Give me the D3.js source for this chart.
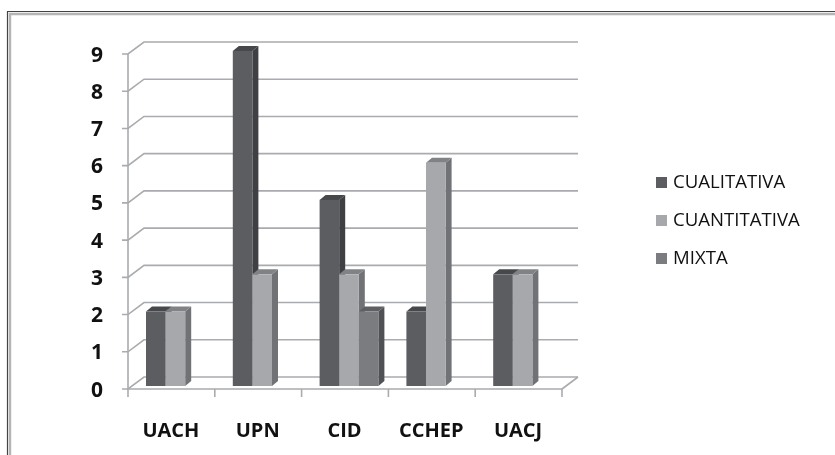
<!DOCTYPE html>
<html>
<head>
<meta charset="utf-8">
<script src="https://cdn.jsdelivr.net/npm/d3@7"></script>
<style>
  html, body { margin: 0; padding: 0; background: #fff; }
  svg { display: block; filter: blur(0.35px); }
  text { font-family: "Open Sans", sans-serif; fill: #111; }
</style>
</head>
<body>
<svg width="835" height="455"></svg>
<script>
const categories = ['UACH', 'UPN', 'CID', 'CCHEP', 'UACJ'];
const seriesNames = ['CUALITATIVA', 'CUANTITATIVA', 'MIXTA'];
const cualitativa = [2, 9, 5, 2, 3];
const cuantitativa = [2, 3, 3, 6, 3];
const mixta = [0, 0, 2, 0, 0];
const seriesValues = [cualitativa, cuantitativa, mixta];
const yTicks = [0, 1, 2, 3, 4, 5, 6, 7, 8, 9];

const front = ['#5c5d61', '#a6a8ac', '#7b7c80'];
const side = ['#3f4043', '#707276', '#505155'];
const top_ = ['#47484b', '#808285', '#5e5f63'];
const grid = '#a9abae';

const svg = d3.select('svg');

// window frame, only top and left show
svg.append('path').attr('d', 'M7.5,455V11.5H835').attr('fill', 'none').attr('stroke', '#444').attr('stroke-width', 1.2);
svg.append('path').attr('d', 'M10,455V14H835').attr('fill', 'none').attr('stroke', '#b4b5b6').attr('stroke-width', 2.4);

const x = d3.scaleBand().domain(categories).range([128, 562]);
const y = d3.scaleLinear().domain([0, 9]).range([389, 54]);
const depthX = 16, depthY = 12;   // wall offset
const barDX = 6, barDY = 5;       // bar depth
const barW = 19.6, barOffset = 18, barLift = 3;

const walls = svg.append('g').attr('fill', 'none').attr('stroke', grid).attr('stroke-width', 1.6);

// gridlines on back wall and side wall
walls.selectAll('path.grid')
  .data(yTicks)
  .enter().append('path')
  .attr('class', 'grid')
  .attr('d', d => `M${x.range()[0] - 6},${y(d)}H${x.range()[0]}L${x.range()[0] + depthX},${y(d) - depthY}H${x.range()[1] + depthX}`);

// floor right edge
walls.append('path')
  .attr('d', `M${x.range()[1]},${y(0)}L${x.range()[1] + depthX},${y(0) - depthY}`);

// front axes
walls.append('path').attr('d', `M${x.range()[0]},${y(9)}V${y(0)}H${x.range()[1]}`);
walls.selectAll('path.tick')
  .data(categories.map(c => x(c)).concat(x.range()[1]))
  .enter().append('path')
  .attr('class', 'tick')
  .attr('d', d => `M${d},${y(0)}V${y(0) + 8}`);

// bars, left to right
const bars = svg.append('g');
categories.forEach((c, i) => {
  seriesValues.forEach((vals, s) => {
    const v = vals[i];
    if (!v) return;
    const x0 = x(c) + barOffset + s * barW;
    const x1 = x0 + barW;
    const yb = y(0) - barLift;
    const yt = y(v) - barLift;
    const g = bars.append('g');
    g.append('path').attr('fill', side[s])
      .attr('d', `M${x1},${yb}L${x1 + barDX},${yb - barDY}V${yt - barDY}L${x1},${yt}Z`);
    g.append('path').attr('fill', top_[s])
      .attr('d', `M${x0},${yt}L${x0 + barDX},${yt - barDY}H${x1 + barDX}L${x1},${yt}Z`);
    g.append('rect').attr('fill', front[s])
      .attr('x', x0).attr('y', yt).attr('width', barW).attr('height', yb - yt);
  });
});

// value labels
svg.append('g').selectAll('text')
  .data(yTicks)
  .enter().append('text')
  .attr('x', 97)
  .attr('y', d => y(d) + 7.5)
  .attr('text-anchor', 'middle')
  .attr('font-size', 21)
  .attr('font-weight', 700)
  .text(d => d);

// category labels
svg.append('g').selectAll('text')
  .data(categories)
  .enter().append('text')
  .attr('x', d => x(d) + x.bandwidth() / 2 - 0.5)
  .attr('y', 436.5)
  .attr('text-anchor', 'middle')
  .attr('font-size', 20)
  .attr('font-weight', 700)
  .text(d => d);

// legend
const legend = svg.append('g').selectAll('g')
  .data(seriesNames)
  .enter().append('g')
  .attr('transform', (d, i) => `translate(656,${177 + i * 38})`);
legend.append('rect')
  .attr('width', 11).attr('height', 11)
  .attr('fill', (d, i) => front[i]);
legend.append('text')
  .attr('x', 17).attr('y', 11)
  .attr('font-size', 18.6)
  .text(d => d);
</script>
</body>
</html>
